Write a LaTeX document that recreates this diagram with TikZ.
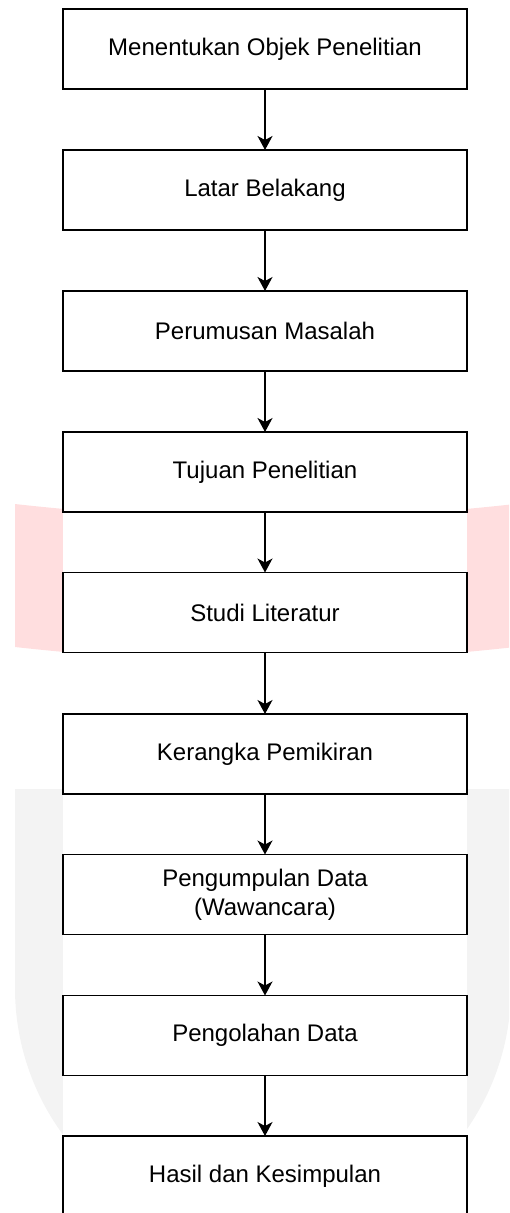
\documentclass[tikz,border=0pt]{standalone}
\usepackage{fontspec}
\setmainfont{Liberation Sans}
\usetikzlibrary{arrows.meta}
\definecolor{wmpink}{RGB}{255,222,223}
\definecolor{wmgrey}{RGB}{243,243,243}
\begin{document}
\begin{tikzpicture}[x=1pt,y=-1pt,
  stepbox/.style={draw=black, line width=1.5pt, fill=white, minimum width=404pt, minimum height=80pt,
    inner sep=0pt, outer sep=0pt, align=center, font=\fontsize{24}{28.8}\selectfont},
  flow/.style={line width=1.4pt, -{Stealth[length=14pt,width=15pt,inset=4pt]}}]
\clip (0,0) rectangle (509,1213);
% watermark
\fill[wmpink] (15,504) .. controls (181.7,522.7) and (348.3,522.7) .. (515,504)
  -- (515,647) .. controls (348.3,665.7) and (181.7,665.7) .. (15,647) -- cycle;
\fill[wmgrey] (15,789) -- (511,789) -- (511,988) arc[start angle=0, end angle=-180, radius=248pt] -- cycle;
\fill[white] (63,0) rectangle (467,1213);
% boxes
\node[stepbox] (b0) at (265,49) {Menentukan Objek Penelitian};
\node[stepbox] (b1) at (265,190) {Latar Belakang};
\node[stepbox] (b2) at (265,331) {Perumusan Masalah};
\node[stepbox] (b3) at (265,472) {Tujuan Penelitian};
\node[stepbox] (b4) at (265,612.5) {Studi Literatur};
\node[stepbox] (b5) at (265,754) {Kerangka Pemikiran};
\node[stepbox] (b6) at (265,894.5) {Pengumpulan Data\\(Wawancara)};
\node[stepbox] (b7) at (265,1035.5) {Pengolahan Data};
\node[stepbox] (b8) at (265,1176) {Hasil dan Kesimpulan};
% connectors
\draw[flow] (b0) -- (b1);
\draw[flow] (b1) -- (b2);
\draw[flow] (b2) -- (b3);
\draw[flow] (b3) -- (b4);
\draw[flow] (b4) -- (b5);
\draw[flow] (b5) -- (b6);
\draw[flow] (b6) -- (b7);
\draw[flow] (b7) -- (b8);
\end{tikzpicture}
\end{document}
